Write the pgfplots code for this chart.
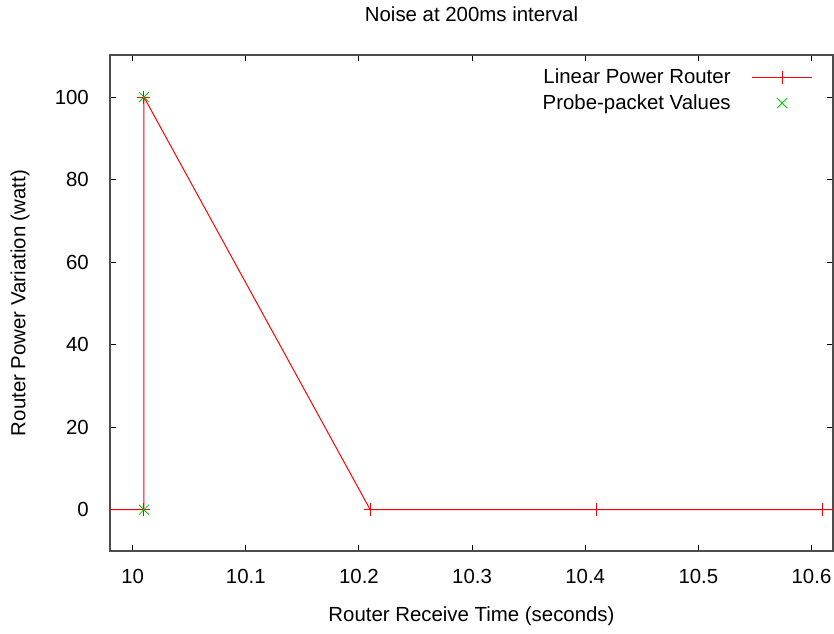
\documentclass[border=0pt]{standalone}
\usepackage{fontspec}
\setmainfont{Liberation Sans}
\usepackage{pgfplots}
\pgfplotsset{compat=1.18}

\definecolor{gpred}{RGB}{255,0,0}
\definecolor{gpgreen}{RGB}{0,200,0}

\begin{document}
\fontsize{10.2pt}{12pt}\selectfont
\begin{tikzpicture}
\begin{axis}[
    scale only axis,
    width=361.5pt, height=248pt,
    xmin=9.98, xmax=10.619,
    ymin=-10, ymax=110.2,
    xtick={10,10.1,10.2,10.3,10.4,10.5,10.6},
    xticklabels={10,10.1,10.2,10.3,10.4,10.5,10.6},
    ytick={0,20,40,60,80,100},
    tick pos=both,
    tick align=inside,
    major tick length=3pt,
    /pgf/number format/assume math mode=true,
    axis line style={black!70, line width=0.6pt},
    every tick/.style={black, line width=0.5pt},
    xticklabel style={yshift=-5.5pt},
    yticklabel style={xshift=-7pt},
    title={Noise at 200ms interval},
    title style={at={([yshift=20.5pt]axis description cs:0.5,1)}, anchor=center, yshift=-6pt},
    xlabel={Router Receive Time (seconds)},
    xlabel style={at={([yshift=-32.5pt]axis description cs:0.5,0)}, anchor=center},
    ylabel={Router Power Variation (watt)},
    ylabel style={at={([xshift=-45pt]axis description cs:0,0.5)}, anchor=center},
    legend style={draw=none, fill=none, at={(1,1)}, anchor=north east,
        xshift=-7pt, yshift=-2.5pt, row sep=0pt,
        cells={anchor=east}, legend plot pos=right,
        /tikz/every odd column/.append style={column sep=8.5pt}},
    legend image code/.code={\draw[mark repeat=2,mark phase=2,#1]
        plot coordinates {(0pt,0pt) (15pt,0pt) (30pt,0pt)};},
    clip=true,
]
\addplot [gpred, line width=0.5pt, mark=+, mark size=3.25pt,
    mark options={solid}] coordinates {
    (9.81, 0) (10.01, 0) (10.01, 100) (10.21, 0) (10.41, 0) (10.61, 0) (10.81, 0)
};
\addlegendentry{Linear Power Router}
\addplot [gpgreen, only marks, mark=x, mark size=3.5pt, line width=0.4pt] coordinates {
    (10.01, 0) (10.01, 100)
};
\addlegendentry{Probe-packet Values}
\end{axis}
\pgfresetboundingbox
\path (current axis.south west) ++(-55pt,-41.5pt) coordinate (bl);
\path (current axis.north east) ++(0.5pt,27.5pt) coordinate (tr);
\path[use as bounding box] (bl) rectangle (tr);
\end{tikzpicture}
\end{document}
